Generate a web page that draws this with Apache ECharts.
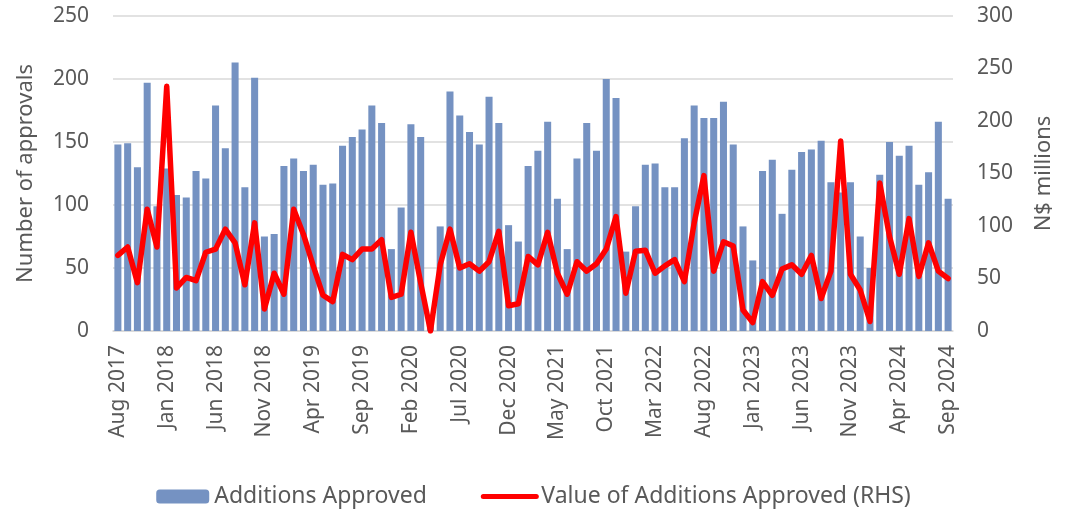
<!DOCTYPE html>
<html lang="en">
<head>
    <meta charset="UTF-8">
    <title>Additions approved</title>
    <script src="https://cdn.jsdelivr.net/npm/echarts@6/dist/echarts.min.js"></script>
    <style>
        html, body { margin: 0; padding: 0; background: #fff; }
        #chart { width: 1067px; height: 515px; }
    </style>
</head>
<body>
<div id="chart"></div>
<script>
// monthly, Aug 2017 .. Sep 2024
var monthNames = ['Jan','Feb','Mar','Apr','May','Jun','Jul','Aug','Sep','Oct','Nov','Dec'];
var categories = [];
for (var y = 2017, m = 7; y < 2024 || (y === 2024 && m <= 8); ) {
    categories.push(monthNames[m] + ' ' + y);
    m++;
    if (m > 11) { m = 0; y++; }
}

// Additions Approved (number, LHS)
var approvals = [
    148, 149, 130, 197, 99, 129, 108, 106, 127, 121,
    179, 145, 213, 114, 201, 75, 77, 131, 137, 127,
    132, 116, 117, 147, 154, 160, 179, 165, 65, 98,
    164, 154, 12, 83, 190, 171, 158, 148, 186, 165,
    84, 71, 131, 143, 166, 105, 65, 137, 165, 143,
    200, 185, 63, 99, 132, 133, 114, 114, 153, 179,
    169, 169, 182, 148, 83, 56, 127, 136, 93, 128,
    142, 144, 151, 118, 110, 118, 75, 50, 124, 150,
    139, 147, 116, 126, 166, 105
];

// Value of Additions Approved, N$ millions (RHS)
var values = [
    72, 80, 46, 116, 80, 233, 41, 51, 48, 75,
    78, 97, 84, 44, 103, 21, 55, 35, 116, 92,
    62, 34, 28, 73, 68, 78, 78, 87, 32, 35,
    94, 46, 0, 63, 97, 60, 64, 57, 66, 95,
    24, 26, 71, 63, 94, 55, 35, 66, 57, 64,
    78, 109, 36, 76, 77, 55, 62, 68, 47, 103,
    148, 57, 85, 81, 20, 8, 47, 34, 59, 63,
    54, 72, 31, 57, 181, 54, 39, 9, 141, 90,
    54, 107, 52, 84, 57, 50
];

var font = 'Noto Sans';
var grey = '#595959';

var chart = echarts.init(document.getElementById('chart'));
chart.setOption({
    animation: false,
    textStyle: { fontFamily: font },
    grid: { left: 113, right: 114, top: 16, bottom: 184 },
    legend: {
        bottom: 2,
        left: 'center',
        itemWidth: 53,
        itemHeight: 14,
        itemGap: 54,
        textStyle: { fontSize: 23, color: grey, fontFamily: font },
        data: [
            'Additions Approved',
            {
                name: 'Value of Additions Approved (RHS)',
                itemStyle: { opacity: 0 },
                lineStyle: { width: 5, color: '#ff0000', cap: 'round' }
            }
        ]
    },
    xAxis: {
        type: 'category',
        data: categories,
        boundaryGap: true,
        axisLine: { lineStyle: { color: '#d9d9d9', width: 1.5 } },
        axisTick: { interval: 4, length: 6, lineStyle: { color: '#d9d9d9', width: 1.5 } },
        axisLabel: {
            interval: 4,
            rotate: 90,
            margin: 14,
            fontSize: 21,
            color: grey,
            fontFamily: font
        }
    },
    yAxis: [
        {
            type: 'value',
            min: 0,
            max: 250,
            interval: 50,
            name: 'Number of approvals',
            nameLocation: 'middle',
            nameGap: 76,
            nameTextStyle: { fontSize: 22, color: grey, fontFamily: font },
            axisLabel: { fontSize: 21, color: grey, margin: 24, fontFamily: font },
            axisLine: { show: false },
            axisTick: { show: false },
            splitLine: { lineStyle: { color: '#d9d9d9', width: 1.5 } }
        },
        {
            type: 'value',
            min: 0,
            max: 300,
            interval: 50,
            name: 'N$ millions',
            nameLocation: 'middle',
            nameGap: 80,
            nameRotate: 90,
            nameTextStyle: { fontSize: 22, color: grey, fontFamily: font },
            axisLabel: { fontSize: 21, color: grey, margin: 24, fontFamily: font },
            axisLine: { show: false },
            axisTick: { show: false },
            splitLine: { show: false }
        }
    ],
    series: [
        {
            name: 'Additions Approved',
            type: 'bar',
            data: approvals,
            barWidth: '72%',
            itemStyle: { color: '#7592c2' }
        },
        {
            name: 'Value of Additions Approved (RHS)',
            type: 'line',
            yAxisIndex: 1,
            data: values,
            symbol: 'none',
            lineStyle: { color: '#ff0000', width: 5.5, join: 'round', cap: 'round' },
            itemStyle: { color: '#ff0000' }
        }
    ]
});
</script>
</body>
</html>
